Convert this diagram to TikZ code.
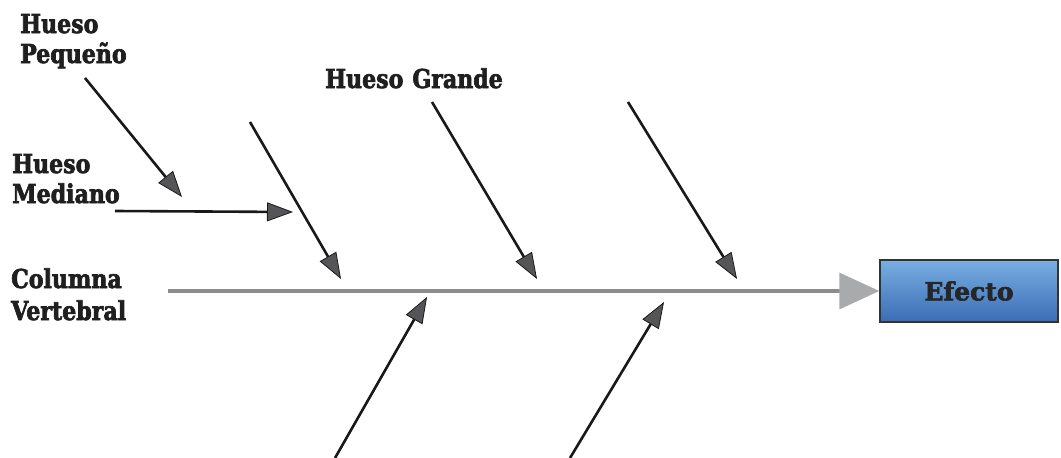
\documentclass[tikz,border=0pt]{standalone}
\usepackage{fontspec}
\setmainfont{DejaVu Serif}
\newfontfamily\lblfont{DejaVu Serif}[FakeStretch=0.85, BoldFeatures={FakeBold=2.5}]
\newfontfamily\efffont{DejaVu Serif}[BoldFeatures={FakeBold=2.5}]
\usetikzlibrary{arrows.meta}
\definecolor{bonefill}{HTML}{555558}
\definecolor{spinegray}{HTML}{8C8C8C}
\definecolor{spinehead}{HTML}{A8AAAC}
\definecolor{boxtop}{HTML}{78AEE2}
\definecolor{boxbot}{HTML}{3A6DB5}
\begin{document}
\begin{tikzpicture}[x=1pt,y=-1pt,
  lbl/.style={font=\lblfont\bfseries\fontsize{26}{30}\selectfont, text=black!88, inner sep=0pt, anchor=base west},
  bone/.style={line width=2.6pt, draw=black!90, -{Triangle[length=26pt,width=19pt,fill=bonefill,line width=0.8pt]}},
  spine/.style={line width=3.6pt, draw=spinegray, -{Triangle[length=40pt,width=36pt,fill=spinehead,color=spinehead]}},
  effbox/.style={draw=black!80, line width=1.4pt, top color=boxtop, bottom color=boxbot, minimum width=178pt, minimum height=62pt, inner sep=0pt, font=\efffont\bfseries\fontsize{25}{28}\selectfont, text=black!85}
]
\useasboundingbox (0,0) rectangle (1061,458);
% labels
\node[lbl] (lp1) at (20,33) {Hueso};
\node[lbl] (lp2) at (20,63) {Pequeño};
\node[lbl] (lm1) at (12,173) {Hueso};
\node[lbl] (lm2) at (12,203) {Mediano};
\node[lbl] (lc1) at (11,288) {Columna};
\node[lbl] (lc2) at (11,320) {Vertebral};
\node[lbl] (lg) at (325,88) {Hueso\hspace{9pt}Grande};
% effect box
\node[effbox] (eff) at (969,291) {Efecto};
% spine
\coordinate (sp) at (168,291);
\draw[spine] (sp) -- (eff.west);
% bones
\coordinate (b1s) at (85,78);   \coordinate (b1e) at (182,197);
\coordinate (b2s) at (115,211); \coordinate (b2e) at (293,212);
\coordinate (b3s) at (250,122); \coordinate (b3e) at (341,279);
\coordinate (b4s) at (432,102); \coordinate (b4e) at (537,279);
\coordinate (b5s) at (628,102); \coordinate (b5e) at (737,279);
\coordinate (b6s) at (335,458); \coordinate (b6e) at (427,297);
\coordinate (b7s) at (570,458); \coordinate (b7e) at (664,302);
\draw[bone] (b1s) -- (b1e);
\draw[bone] (b2s) -- (b2e);
\draw[bone] (b3s) -- (b3e);
\draw[bone] (b4s) -- (b4e);
\draw[bone] (b5s) -- (b5e);
\draw[bone] (b6s) -- (b6e);
\draw[bone] (b7s) -- (b7e);
\end{tikzpicture}
\end{document}
